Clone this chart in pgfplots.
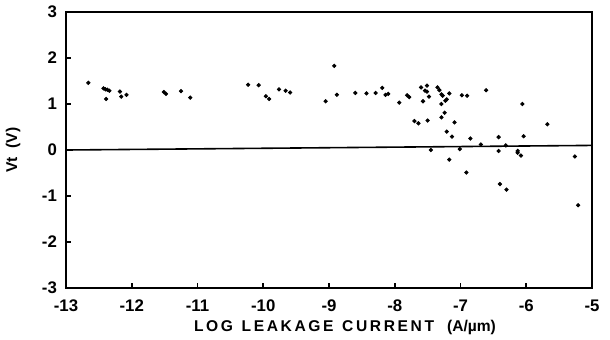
\documentclass[border=0pt]{standalone}
\usepackage{pgfplots}
\pgfplotsset{compat=1.18}
\usepackage{fontspec}
\setmainfont{Liberation Sans}
\begin{document}
\begin{tikzpicture}
\useasboundingbox (-33pt,-26.5pt) rectangle (272pt,143pt);
\begin{axis}[
  at={(0,-1pt)}, anchor=south west,
  scale only axis, width=263pt, height=138pt,
  xmin=-13, xmax=-5, ymin=-3, ymax=3,
  xtick={-13,-12,-11,-10,-9,-8,-7,-6,-5},
  xticklabels={{-13},{-12},{-11},{-10},{-9},{-8},{-7},{-6},{-5}},
  ytick={-3,-2,-1,0,1,2,3},
  yticklabels={{-3},{-2},{-1},{0},{1},{2},{3}},
  xtick pos=bottom, ytick pos=left, tick align=inside,
  major tick length=2.5pt,
  axis line style={line width=1pt, black},
  every tick/.style={line width=0.8pt, black},
  tick label style={font=\fontsize{8.4}{9}\selectfont\bfseries},
  xticklabel style={yshift=-2.5pt},
  yticklabel style={xshift=-1pt},
  label style={font=\fontsize{7.8}{9}\selectfont\bfseries},
  xlabel={L\,O\,G\ \ L\,E\,A\,K\,A\,G\,E\ \ C\,U\,R\,R\,E\,N\,T\ \ \ (A/\textmu m)},
  ylabel={Vt\ \ (V)},
  xlabel style={yshift=3pt, xshift=8pt},
  ylabel style={yshift=4pt},
  clip=false,
]
\draw[black, line width=1.1pt] (rel axis cs:0,1) -- (rel axis cs:1,1) -- (rel axis cs:1,0);
\addplot[black, line width=0.8pt, forget plot] coordinates {(-13,0) (-5,0.1)};
\addplot[only marks, mark=*, mark size=0.85pt, black] coordinates {
(-12.66,1.46) (-12.43,1.34) (-12.40,1.32) (-12.37,1.31) (-12.34,1.29) (-12.39,1.11)
(-12.18,1.27) (-12.16,1.16) (-12.08,1.20) (-11.51,1.26) (-11.48,1.22) (-11.25,1.28)
(-11.11,1.14) (-10.23,1.42) (-10.07,1.41) (-9.96,1.17) (-9.91,1.11) (-9.76,1.32)
(-9.66,1.29) (-9.59,1.25) (-9.05,1.06) (-8.92,1.83) (-8.88,1.20) (-8.60,1.24)
(-8.43,1.23) (-8.29,1.24) (-8.19,1.35) (-8.14,1.20) (-8.10,1.22) (-7.93,1.03)
(-7.81,1.19) (-7.78,1.15) (-7.70,0.63) (-7.64,0.58) (-7.60,1.36) (-7.57,1.06)
(-7.54,1.29) (-7.51,1.40) (-7.51,1.27) (-7.48,1.16) (-7.50,0.64) (-7.45,0.00)
(-7.35,1.36) (-7.32,1.30) (-7.29,1.21) (-7.27,1.18) (-7.29,1.00) (-7.24,0.81)
(-7.29,0.71) (-7.23,1.07) (-7.21,1.10) (-7.17,1.23) (-7.21,0.40) (-7.13,0.29)
(-7.09,0.60) (-7.17,-0.21) (-7.01,0.02) (-6.98,1.19) (-6.90,1.18) (-6.91,-0.49)
(-6.85,0.25) (-6.69,0.12) (-6.61,1.30) (-6.42,0.28) (-6.42,-0.02) (-6.31,0.10)
(-6.13,-0.02) (-6.13,-0.06) (-6.08,-0.12) (-6.06,1.00) (-6.04,0.30) (-5.68,0.56)
(-5.26,-0.14) (-6.40,-0.74) (-6.30,-0.86) (-5.21,-1.20)
};
\end{axis}
\end{tikzpicture}
\end{document}
